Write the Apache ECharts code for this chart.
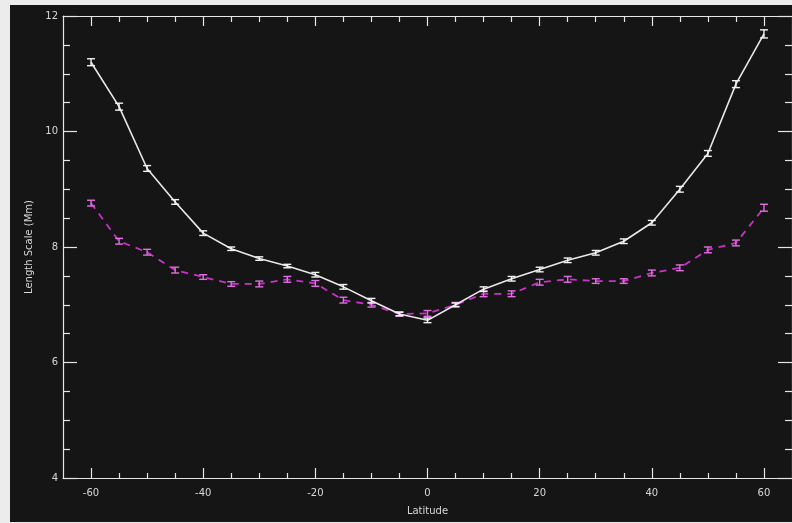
<!DOCTYPE html>
<html>
<head>
<meta charset="utf-8">
<script src="https://cdn.jsdelivr.net/npm/echarts@6/dist/echarts.min.js"></script>
<style>
  html, body { margin: 0; padding: 0; background: #ececec; }
  #chart { width: 792px; height: 523px; }
</style>
</head>
<body>
<div id="chart"></div>
<script>
// latitude (deg), every 5 degrees
const latitude = [-60, -55, -50, -45, -40, -35, -30, -25, -20, -15, -10, -5, 0,
  5, 10, 15, 20, 25, 30, 35, 40, 45, 50, 55, 60]

// white solid curve: length scale (Mm) and half error
const whiteScale = [11.20, 10.43, 9.36, 8.78, 8.24, 7.97, 7.80, 7.67, 7.52, 7.31, 7.07, 6.84, 6.73,
  7.00, 7.27, 7.45, 7.61, 7.77, 7.90, 8.10, 8.42, 9.00, 9.62, 10.82, 11.69]
const whiteErr = [0.06, 0.06, 0.05, 0.04, 0.04, 0.03, 0.03, 0.03, 0.04, 0.04, 0.04, 0.03, 0.04,
  0.03, 0.04, 0.04, 0.04, 0.04, 0.04, 0.04, 0.04, 0.05, 0.05, 0.06, 0.07]

// magenta dashed curve
const magentaScale = [8.76, 8.10, 7.91, 7.60, 7.48, 7.36, 7.36, 7.44, 7.37, 7.08, 7.00, 6.84, 6.85,
  7.00, 7.19, 7.19, 7.39, 7.44, 7.41, 7.41, 7.55, 7.64, 7.95, 8.07, 8.68]
const magentaErr = [0.05, 0.05, 0.05, 0.05, 0.04, 0.04, 0.05, 0.05, 0.05, 0.05, 0.04, 0.04, 0.05,
  0.04, 0.05, 0.05, 0.05, 0.05, 0.04, 0.04, 0.05, 0.05, 0.05, 0.05, 0.06]

// ticks
const xMajor = [-60, -40, -20, 0, 20, 40, 60]
const xMinor = [-55, -50, -45, -35, -30, -25, -15, -10, -5, 5, 10, 15, 25, 30, 35, 45, 50, 55]
const yMajor = [4, 6, 8, 10, 12]
const yMinor = [4.5, 5, 5.5, 6.5, 7, 7.5, 8.5, 9, 9.5, 10.5, 11, 11.5]

const axisColor = '#e6e6e6'
const labelColor = '#d8d8d8'
const magenta = '#cc2fcc'
const magentaBar = '#e070e0'
const font = 'DejaVu Sans'

const chart = echarts.init(document.getElementById('chart'), null, { renderer: 'canvas' })

// vertical error bar with caps
function errorBar(params, api) {
  const x = api.value(0)
  const lo = api.coord([x, api.value(1)])
  const hi = api.coord([x, api.value(2)])
  const half = 4
  const style = { stroke: api.visual('color'), lineWidth: 1.4 }
  return {
    type: 'group',
    children: [
      { type: 'line', shape: { x1: lo[0], y1: lo[1], x2: hi[0], y2: hi[1] }, style },
      { type: 'line', shape: { x1: lo[0] - half, y1: lo[1], x2: lo[0] + half, y2: lo[1] }, style },
      { type: 'line', shape: { x1: hi[0] - half, y1: hi[1], x2: hi[0] + half, y2: hi[1] }, style }
    ]
  }
}

function xAxisDef(position, values, len, withLine, withLabel) {
  return {
    type: 'value',
    position: position,
    min: -65,
    max: 65,
    axisLine: { show: withLine, onZero: false, lineStyle: { color: axisColor, width: 1.2 } },
    axisTick: { show: true, inside: true, length: len, customValues: values, lineStyle: { color: axisColor, width: 1.2 } },
    axisLabel: withLabel
      ? { show: true, customValues: values, color: labelColor, fontSize: 10, fontFamily: font, margin: 10 }
      : { show: false },
    splitLine: { show: false }
  }
}

function yAxisDef(position, values, len, withLine, withLabel) {
  return {
    type: 'value',
    position: position,
    min: 4,
    max: 12,
    axisLine: { show: withLine, onZero: false, lineStyle: { color: axisColor, width: 1.2 } },
    axisTick: { show: true, inside: true, length: len, customValues: values, lineStyle: { color: axisColor, width: 1.2 } },
    axisLabel: withLabel
      ? { show: true, customValues: values, color: labelColor, fontSize: 10, fontFamily: font, margin: 5 }
      : { show: false },
    splitLine: { show: false }
  }
}

const xBottom = xAxisDef('bottom', xMajor, 10, true, true)
xBottom.name = 'Latitude'
xBottom.nameLocation = 'middle'
xBottom.nameGap = 28
xBottom.nameTextStyle = { color: labelColor, fontSize: 10, fontFamily: font }

const yLeft = yAxisDef('left', yMajor, 14, true, true)
yLeft.name = 'Length Scale (Mm)'
yLeft.nameLocation = 'middle'
yLeft.nameGap = 24
yLeft.nameRotate = 90
yLeft.nameTextStyle = { color: labelColor, fontSize: 10, fontFamily: font }

const option = {
  backgroundColor: '#ececec',
  animation: false,
  graphic: [{
    type: 'rect',
    silent: true,
    z: -10,
    shape: { x: 10, y: 5, width: 782, height: 517 },
    style: { fill: '#151515' }
  }],
  grid: { left: 63, top: 16, right: -2, bottom: 45 },
  xAxis: [
    xBottom,
    xAxisDef('bottom', xMinor, 5, false, false),
    xAxisDef('top', xMajor, 10, true, false),
    xAxisDef('top', xMinor, 6, false, false)
  ],
  yAxis: [
    yLeft,
    yAxisDef('left', yMinor, 7, false, false),
    yAxisDef('right', yMajor, 14, true, false),
    yAxisDef('right', yMinor, 7, false, false)
  ],
  series: [
    {
      type: 'line',
      data: latitude.map((lat, i) => [lat, magentaScale[i]]),
      showSymbol: false,
      lineStyle: { color: magenta, width: 1.8, type: [7, 6] },
      z: 2
    },
    {
      type: 'custom',
      renderItem: errorBar,
      data: latitude.map((lat, i) => [lat, magentaScale[i] - magentaErr[i], magentaScale[i] + magentaErr[i]]),
      encode: { x: 0, y: [1, 2] },
      itemStyle: { color: magentaBar },
      z: 3
    },
    {
      type: 'line',
      data: latitude.map((lat, i) => [lat, whiteScale[i]]),
      showSymbol: false,
      lineStyle: { color: '#e8e8e8', width: 1.6 },
      z: 4
    },
    {
      type: 'custom',
      renderItem: errorBar,
      data: latitude.map((lat, i) => [lat, whiteScale[i] - whiteErr[i], whiteScale[i] + whiteErr[i]]),
      encode: { x: 0, y: [1, 2] },
      itemStyle: { color: '#f2f2f2' },
      z: 5
    }
  ]
}

chart.setOption(option)
</script>
</body>
</html>
